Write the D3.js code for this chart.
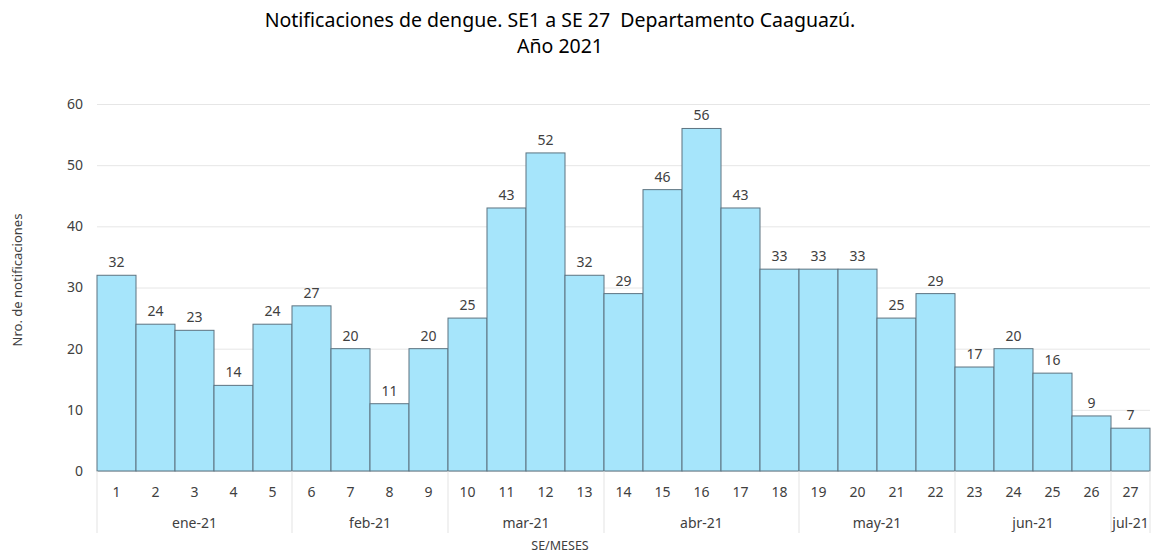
<!DOCTYPE html>
<html>
<head>
<meta charset="utf-8">
<script src="https://cdn.jsdelivr.net/npm/d3@7"></script>
<style>
  body { margin: 0; background: #fff; }
  text { font-family: "Noto Sans", "Open Sans", sans-serif; fill: #404040; }
</style>
</head>
<body>
<script>
// Data
var weeks = ["1","2","3","4","5","6","7","8","9","10","11","12","13","14","15","16","17","18","19","20","21","22","23","24","25","26","27"];
var values = [32,24,23,14,24,27,20,11,20,25,43,52,32,29,46,56,43,33,33,33,25,29,17,20,16,9,7];
var months = ["ene-21","feb-21","mar-21","abr-21","may-21","jun-21","jul-21"];
var monthWeeks = [5,4,4,5,4,4,1];
var yTicks = [0,10,20,30,40,50,60];

var W = 1155, H = 553;
var margin = {left: 97, right: 5, top: 104, bottom: 82};
var width = W - margin.left - margin.right,
    height = H - margin.top - margin.bottom;

var svg = d3.select("body").append("svg")
    .attr("width", W).attr("height", H);

//Title
svg.append("text")
    .attr("x", 560).attr("y", 27)
    .style("text-anchor", "middle")
    .style("white-space", "pre")
    .attr("font-size", "19.5px").style("fill", "#000")
    .text("Notificaciones de dengue. SE1 a SE 27  Departamento Caaguazú.");
svg.append("text")
    .attr("x", 560).attr("y", 53)
    .style("text-anchor", "middle")
    .attr("font-size", "19.5px").style("fill", "#000")
    .text("Año 2021");

var g = svg.append("g")
    .attr("transform", "translate(" + margin.left + "," + margin.top + ")");

//Scales
var x = d3.scaleBand().domain(weeks).range([0, width]).padding(0);
var y = d3.scaleLinear().domain([0, 60]).range([height, 0]);

//Gridlines + y axis
var yAxis = d3.axisLeft(y).tickValues(yTicks).tickSize(-width).tickPadding(14);
var gy = g.append("g").call(yAxis);
gy.select(".domain").remove();
gy.selectAll("line").attr("stroke", "#e6e6e6");
gy.selectAll("text").attr("font-size", "14px");

//Bars
g.selectAll(".bar")
    .data(values)
    .enter().append("rect")
    .attr("class", "bar")
    .attr("x", function(d, i) { return x(weeks[i]); })
    .attr("y", function(d) { return y(d); })
    .attr("width", x.bandwidth())
    .attr("height", function(d) { return height - y(d); })
    .attr("fill", "#a6e5fb")
    .attr("stroke", "#5d7380")
    .attr("stroke-width", 1);

//Value labels
g.selectAll(".val")
    .data(values)
    .enter().append("text")
    .attr("class", "val")
    .attr("x", function(d, i) { return x(weeks[i]) + x.bandwidth() / 2; })
    .attr("y", function(d) { return y(d) - 8; })
    .style("text-anchor", "middle")
    .attr("font-size", "14px")
    .text(function(d) { return d; });

//Week labels
var xAxis = d3.axisBottom(x).tickSize(0).tickPadding(16);
var gx = g.append("g").attr("transform", "translate(0," + height + ")").call(xAxis);
gx.select(".domain").remove();
gx.selectAll("text").attr("font-size", "14px");

//Month groups
var start = 0, bounds = [];
monthWeeks.forEach(function(n, i) {
    bounds.push({name: months[i], s: start, e: start + n});
    start += n;
});
var xm = function(k) { return k < weeks.length ? x(weeks[k]) : width; };

g.selectAll(".sep")
    .data([0].concat(bounds.map(function(b) { return b.e; })))
    .enter().append("line")
    .attr("x1", function(k) { return xm(k); })
    .attr("x2", function(k) { return xm(k); })
    .attr("y1", height).attr("y2", height + 62)
    .attr("stroke", "#e3e3e3");

g.selectAll(".month")
    .data(bounds)
    .enter().append("text")
    .attr("x", function(b) { return (xm(b.s) + xm(b.e)) / 2; })
    .attr("y", height + 57)
    .style("text-anchor", "middle")
    .attr("font-size", "14px")
    .text(function(b) { return b.name; });

//Axis titles
svg.append("text")
    .attr("x", 560).attr("y", 550)
    .style("text-anchor", "middle")
    .attr("font-size", "12.5px")
    .text("SE/MESES");

svg.append("text")
    .attr("transform", "translate(22,280) rotate(-90)")
    .style("text-anchor", "middle")
    .attr("font-size", "13px")
    .text("Nro. de notificaciones");
</script>
</body>
</html>
